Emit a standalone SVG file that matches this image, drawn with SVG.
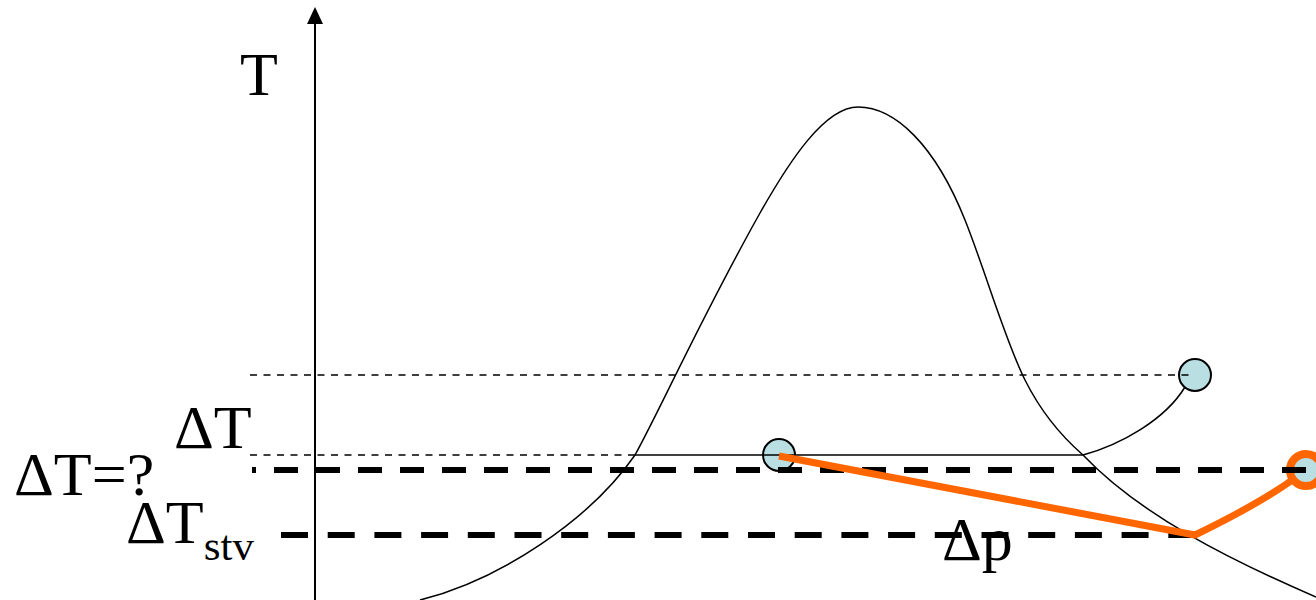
<svg xmlns="http://www.w3.org/2000/svg" width="1316" height="600" viewBox="0 0 1316 600">
<style>
.txt{font-family:"Liberation Serif","Times New Roman",serif;fill:#000}
.big{font-size:62px}
.sub{font-size:43px}
.thin{fill:none;stroke:#000;stroke-width:1.5}
.dot{fill:none;stroke:#000;stroke-width:1.5;stroke-dasharray:7 6.5}
.thick{fill:none;stroke:#000;stroke-width:6}
.node{fill:#b9dfe3;stroke:#000;stroke-width:2}
.orange{fill:none;stroke:#ff6600;stroke-width:7}
</style>
<rect width="1316" height="600" fill="#fff"/>
<g id="axis">
<line x1="315" y1="600" x2="315" y2="20" stroke="#000" stroke-width="2"/>
<polygon points="315,7 307,24 323,24" fill="#000"/>
</g>
<g id="curve">
<path class="thin" d="M420,600 C500,580 590,520 635,455 C660,410 700,320 760,213 C790,160 825,107 858,107 C895,107 935,145 965,220 C985,270 1005,340 1025,380 C1040,410 1060,435 1083,455 C1140,515 1230,560 1316,597"/>
</g>
<g id="node-1"><circle class="node" cx="779" cy="455" r="16"/></g>
<g id="node-2"><circle class="node" cx="1195" cy="375" r="16"/></g>
<g id="node-3"><circle cx="1306" cy="470" r="16" fill="#b9dfe3" stroke="#ff6600" stroke-width="8"/></g>
<g id="connectors">
<line class="dot" x1="250" y1="375" x2="1195" y2="375"/>
<line class="dot" x1="250" y1="455" x2="632" y2="455"/>
<path class="thin" d="M632,455 L1083,455 C1120,445 1165,420 1185,387"/>
<line class="thick" x1="252" y1="470" x2="1306" y2="470" stroke-dasharray="24 18" stroke-dashoffset="20"/>
<line class="thick" x1="281" y1="535" x2="1195" y2="535" stroke-dasharray="27 19.7"/>
<path class="orange" d="M779,456 L1195,535 C1230,518 1265,500 1295,478"/>
</g>
<g id="labels">
<text class="txt big" x="240" y="95">T</text>
<text class="txt big" x="174" y="448">ΔT</text>
<text class="txt big" x="14" y="495">ΔT=?</text>
<text class="txt big" x="126" y="543">ΔT<tspan class="sub" dy="17">stv</tspan></text>
<text class="txt big" x="942" y="560">Δp</text>
</g>
</svg>
